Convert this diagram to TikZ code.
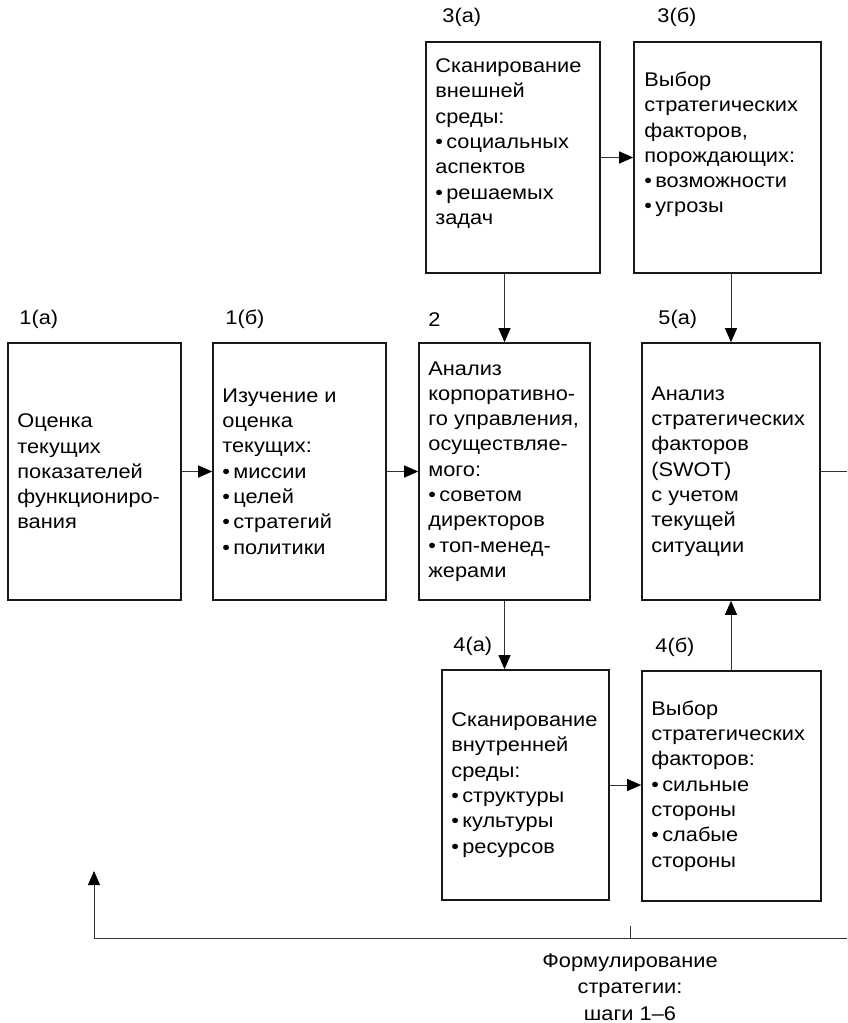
\documentclass[tikz,border=0pt]{standalone}
\usepackage{fontspec}
\setmainfont[FakeStretch=1.1]{Liberation Sans}
\usetikzlibrary{arrows.meta,calc}
\tikzstyle{box}=[draw=black!90,line width=1.6pt,inner sep=0pt]
\tikzstyle{txt}=[anchor=west,align=left,inner sep=0pt,text=black,font=\fontsize{19.8pt}{25.3pt}\selectfont]
\tikzstyle{lbl}=[anchor=west,inner sep=0pt,text=black,font=\fontsize{19.8pt}{23pt}\selectfont]
\tikzstyle{link}=[line width=1pt,draw=black!80]
\tikzstyle{conn}=[link,-{Triangle[length=14pt,width=12pt,fill=black,color=black]}]

\begin{document}
\begin{tikzpicture}[x=1pt,y=-1pt]
		\useasboundingbox (0,0) rectangle (847,1023);
		% middle row
		\node[box,minimum width=173pt,minimum height=257pt] (b1a) at (94.5,471.5) {};
		\node[box,minimum width=173pt,minimum height=257pt] (b1b) at (299.5,471.5) {};
		\node[box,minimum width=171pt,minimum height=257pt] (b2) at (504.5,471.5) {};
		\node[box,minimum width=178pt,minimum height=257pt] (b5a) at (731,471.5) {};
		% top
		\node[box,minimum width=174pt,minimum height=231pt] (b3a) at (513,157.5) {};
		\node[box,minimum width=187pt,minimum height=231pt] (b3b) at (727.5,157.5) {};
		% bottom
		\node[box,minimum width=167pt,minimum height=230pt] (b4a) at (525.5,785) {};
		\node[box,minimum width=179pt,minimum height=230pt] (b4b) at (731.5,786) {};

		% numbers
		\node[lbl] (l1a) at ([xshift=12pt,yshift=23pt]b1a.north west) {1(а)};
		\node[lbl] (l1b) at ([xshift=13pt,yshift=23pt]b1b.north west) {1(б)};
		\node[lbl] (l2) at ([xshift=10pt,yshift=23pt]b2.north west) {2};
		\node[lbl] (l5a) at ([xshift=17pt,yshift=23pt]b5a.north west) {5(а)};
		\node[lbl] (l3a) at ([xshift=17pt,yshift=24pt]b3a.north west) {3(а)};
		\node[lbl] (l3b) at ([xshift=24pt,yshift=24pt]b3b.north west) {3(б)};
		\node[lbl] (l4a) at ([xshift=12pt,yshift=23pt]b4a.north west) {4(а)};
		\node[lbl] (l4b) at ([xshift=14pt,yshift=23pt]b4b.north west) {4(б)};

		% texts
		\node[txt] (t1a) at ([xshift=10pt]b1a.west) {Оценка\\текущих\\показателей\\функциониро-\\вания};
		\node[txt] (t1b) at ([xshift=10pt]b1b.west) {Изучение и\\оценка\\текущих:\\•\,миссии\\•\,целей\\•\,стратегий\\•\,политики};
		\node[txt] (t2) at ([xshift=10pt]b2.west) {Анализ\\корпоративно-\\го управления,\\осуществляе-\\мого:\\•\,советом\\директоров\\•\,топ-менед-\\жерами};
		\node[txt] (t5a) at ([xshift=10pt]b5a.west) {Анализ\\стратегических\\факторов\\(SWOT)\\с учетом\\текущей\\ситуации};
		\node[txt] (t3a) at ([xshift=10pt,yshift=14pt]b3a.west) {Сканирование\\внешней\\среды:\\•\,социальных\\аспектов\\•\,решаемых\\задач};
		\node[txt] (t3b) at ([xshift=11pt,yshift=13pt]b3b.west) {Выбор\\стратегических\\факторов,\\порождающих:\\•\,возможности\\•\,угрозы};
		\node[txt] (t4a) at ([xshift=10pt]b4a.west) {Сканирование\\внутренней\\среды:\\•\,структуры\\•\,культуры\\•\,ресурсов};
		\node[txt] (t4b) at ([xshift=10pt]b4b.west) {Выбор\\стратегических\\факторов:\\•\,сильные\\стороны\\•\,слабые\\стороны};

		% connection
		\draw[conn] (b1a.east) -- (b1b.west);
		\draw[conn] (b1b.east) -- (b2.west);
		\draw[conn] (b3a.east) -- (b3b.west);
		\draw[conn] (b4a.east) -- (b4a.east -| b4b.west);
		\draw[conn] (b2.north |- b3a.south) -- (b2.north);
		\draw[conn] (b5a.north |- b3b.south) -- (b5a.north);
		\draw[conn] (b2.south) -- (b2.south |- b4a.north);
		\draw[conn] (b5a.south |- b4b.north) -- (b5a.south);
		\coordinate (out) at (847,471.5);
		\draw[link] (b5a.east) -- (out);

		% feedback
		\coordinate (bl) at (94,938);
		\coordinate (br) at (847,938);
		\coordinate (up) at (94,871);
		\coordinate (tk) at (630,926);
		\draw[link] (bl) -- (br);
		\draw[conn] (bl) -- (up);
		\draw[link] (tk) -- (tk |- bl);
		\node[align=center,inner sep=0pt,text=black,font=\fontsize{19.8pt}{26.5pt}\selectfont] (form) at (630,987) {Формулирование\\стратегии:\\шаги 1–6};
\end{tikzpicture}
\end{document}
